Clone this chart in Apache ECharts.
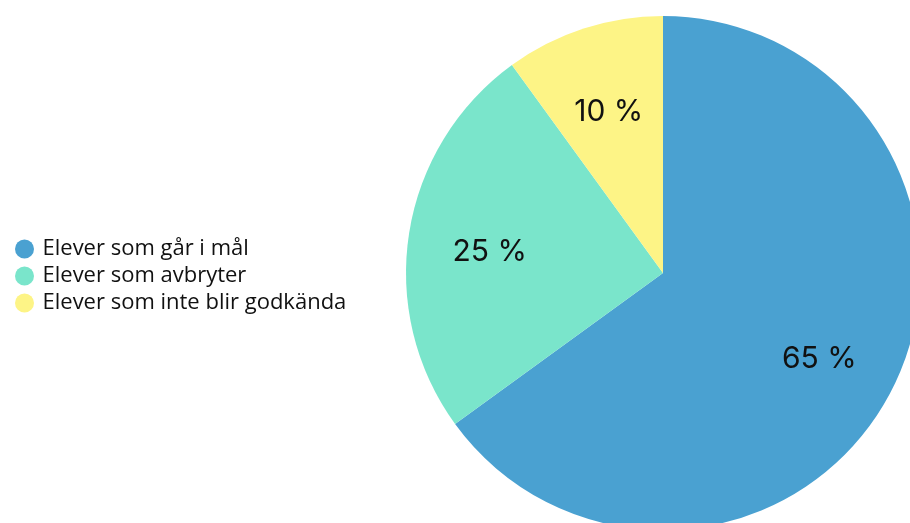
<!DOCTYPE html>
<html>
<head>
<meta charset="utf-8">
<script src="https://cdn.jsdelivr.net/npm/echarts@6/dist/echarts.min.js"></script>
<style>
  html, body { margin: 0; padding: 0; background: #fff; }
  #main { width: 910px; height: 523px; }
</style>
</head>
<body>
<div id="main"></div>
<script>
// data
var categories = ['Elever som går i mål', 'Elever som avbryter', 'Elever som inte blir godkända'];
var values = [65, 25, 10];
var colors = ['#4aa1d1', '#7ae5cb', '#fdf486'];

var myChart = echarts.init(document.getElementById('main'));

var pieData = categories.map(function (name, i) {
    return { name: name, value: values[i], itemStyle: { color: colors[i] } };
});

var option = {
    animation: false,
    legend: {
        orient: 'vertical',
        left: 10,
        top: 233,
        icon: 'circle',
        itemWidth: 20,
        itemHeight: 19,
        itemGap: 5,
        data: categories,
        textStyle: { fontFamily: 'Open Sans', fontSize: 22, color: '#111', padding: [0, 0, 0, 3] }
    },
    series: [
        {
            type: 'pie',
            center: [663, 273],
            radius: [0, 257],
            startAngle: 90,
            clockwise: true,
            silent: true,
            label: { show: false },
            labelLine: { show: false },
            itemStyle: { borderWidth: 0 },
            data: pieData
        },
        {
            // label-only ring so the text sits further out than the half radius
            type: 'pie',
            center: [663, 273],
            radius: [88, 257],
            startAngle: 90,
            clockwise: true,
            silent: true,
            legendHoverLink: false,
            itemStyle: { color: 'transparent', borderWidth: 0 },
            label: {
                show: true,
                position: 'inside',
                formatter: function (p) { return '{s|}\n{t|' + p.value + ' %}'; },
                rich: {
                    s: { height: 12, lineHeight: 12 },
                    t: { fontFamily: 'Inter', fontSize: 30, color: '#111', lineHeight: 36 }
                }
            },
            labelLine: { show: false },
            data: categories.map(function (name, i) {
                return { name: name + ' ', value: values[i] };
            })
        }
    ]
};

myChart.setOption(option);
</script>
</body>
</html>
